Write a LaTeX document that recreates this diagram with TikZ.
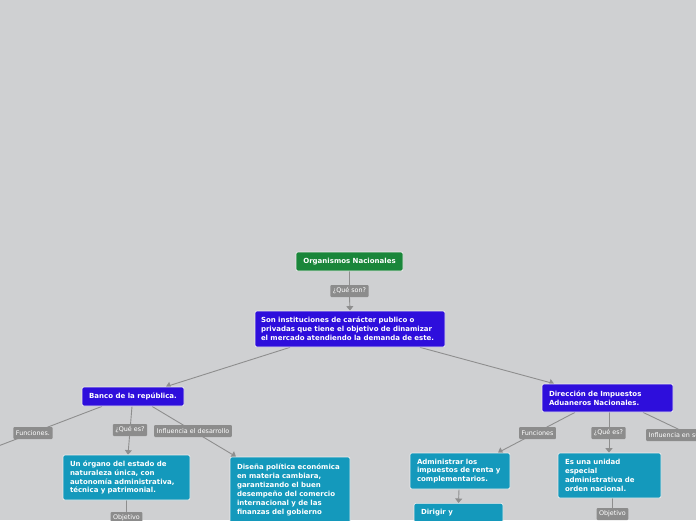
\documentclass[tikz,border=0pt]{standalone}
\usepackage{fontspec}
\setmainfont{DejaVu Sans}
\usetikzlibrary{arrows.meta}
\definecolor{bgc}{RGB}{207,208,210}
\definecolor{rootc}{RGB}{26,134,58}
\definecolor{bluec}{RGB}{46,14,220}
\definecolor{tealc}{RGB}{20,153,188}
\definecolor{lblc}{RGB}{140,140,140}
\definecolor{linec}{RGB}{142,142,142}
\newcommand\myNoHyph{\hyphenpenalty=10000\relax\exhyphenpenalty=10000\relax}
\pgfdeclarelayer{back}
\pgfdeclarelayer{bg}
\pgfsetlayers{back,bg,main}
\tikzset{
  box/.style={draw=white!85!gray, line width=0.7pt, rounded corners=2pt, text=white,
    font=\fontsize{7.0}{8.9}\selectfont\bfseries\myNoHyph,
    align=left, anchor=center, inner xsep=7pt, inner ysep=3pt},
  rootbox/.style={box, fill=rootc, align=center},
  bluebox/.style={box, fill=bluec},
  tealbox/.style={box, fill=tealc},
  lbl/.style={fill=lblc, text=white, rounded corners=1pt, font=\fontsize{6.4}{7}\selectfont,
    inner xsep=2.5pt, inner ysep=0pt, minimum height=12pt},
  conn/.style={draw=linec, line width=0.9pt},
  arr/.style={conn, -{Triangle[width=7pt,length=4.5pt]}}
}
\begin{document}
\begin{tikzpicture}[x=1pt,y=1pt]
\begin{pgfonlayer}{back}
\fill[bgc] (0,0) rectangle (696,-520);
\end{pgfonlayer}
\useasboundingbox (0,0) rectangle (696,-520);
\clip (0,0) rectangle (696,-520);

% main boxes
\node[rootbox, minimum width=107pt, minimum height=19pt] (root) at (349.5,-261.5) {Organismos Nacionales};
\node[bluebox, minimum height=36pt, text width=178pt, inner xsep=6pt] (son) at (350,-329) {Son instituciones de carácter publico o\\privadas que tiene el objetivo de dinamizar\\el mercado atendiendo la demanda de este.};
\node[bluebox, minimum width=102pt, minimum height=19pt, align=center] (banco) at (133,-396.5) {Banco de la república.};
\node[bluebox, minimum height=28pt, text width=117pt] (dian) at (607.5,-398) {Dirección de Impuestos\\Aduaneros Nacionales.};
\node[tealbox, minimum height=45pt, text width=113pt] (organo) at (126.5,-477.5) {Un órgano del estado de\\naturaleza única, con\\autonomía administrativa,\\técnica y patrimonial.};
\node[tealbox, minimum height=66pt, text width=106pt] (disena) at (290,-490) {Diseña política económica\\en materia cambiara,\\garantizando el buen\\desempeño del comercio\\internacional y de las\\finanzas del gobierno};
\node[tealbox, minimum height=36pt, text width=86pt] (admin) at (460,-471) {Administrar los\\impuestos de renta y\\complementarios.};
\node[tealbox, text width=75pt, anchor=north, inner ysep=6pt] (dirigir) at (458.5,-503) {Dirigir y};
\node[tealbox, minimum height=45pt, text width=89pt] (unidad) at (609.5,-475.5) {Es una unidad\\especial\\administrativa de\\orden nacional.};

% labels
\node[lbl] (qson) at (349.5,-291) {¿Qué son?};
\node[lbl] (func1) at (33,-433) {Funciones.};
\node[lbl] (qes1) at (130,-430) {¿Qué es?};
\node[lbl] (infl1) at (193,-431) {Influencia el desarrollo};
\node[lbl] (obj1) at (126.5,-518) {Objetivo};
\node[lbl] (func2) at (537.5,-433) {Funciones};
\node[lbl] (qes2) at (608.5,-433) {¿Qué es?};
\node[lbl, anchor=west] (infl2) at (646,-435) {Influencia en su desarrollo};
\node[lbl] (obj2) at (612.5,-514) {Objetivo};

\coordinate (offleft) at (-20,-453);
\coordinate (offright) at (720,-449);

% connectors behind nodes
\begin{pgfonlayer}{bg}
\draw[conn] (root.south) -- (qson.north);
\draw[arr] (qson.south) -- (son.north);
\draw[arr] ([xshift=-60pt]son.south) -- ([xshift=33pt]banco.north);
\draw[arr] ([xshift=70pt]son.south) -- ([xshift=-53.5pt]dian.north);
\draw[conn] ([xshift=-31pt]banco.south) -- (offleft);
\draw[arr] ([xshift=-1pt]banco.south) -- ([xshift=1.5pt]organo.north);
\draw[arr] ([xshift=19pt]banco.south) -- ([xshift=-54pt]disena.north);
\draw[conn] (organo.south) -- (obj1.north);
\draw[arr] ([xshift=-32.5pt]dian.south) -- ([xshift=38pt]admin.north);
\draw[arr] ([xshift=1.5pt]dian.south) -- ([xshift=-0.5pt]unidad.north);
\draw[conn] ([xshift=35.5pt]dian.south) -- (offright);
\draw[arr] ([xshift=-1pt]admin.south) -- (dirigir.north);
\draw[conn] ([xshift=3pt]unidad.south) -- (obj2.north);
\end{pgfonlayer}
\end{tikzpicture}
\end{document}
